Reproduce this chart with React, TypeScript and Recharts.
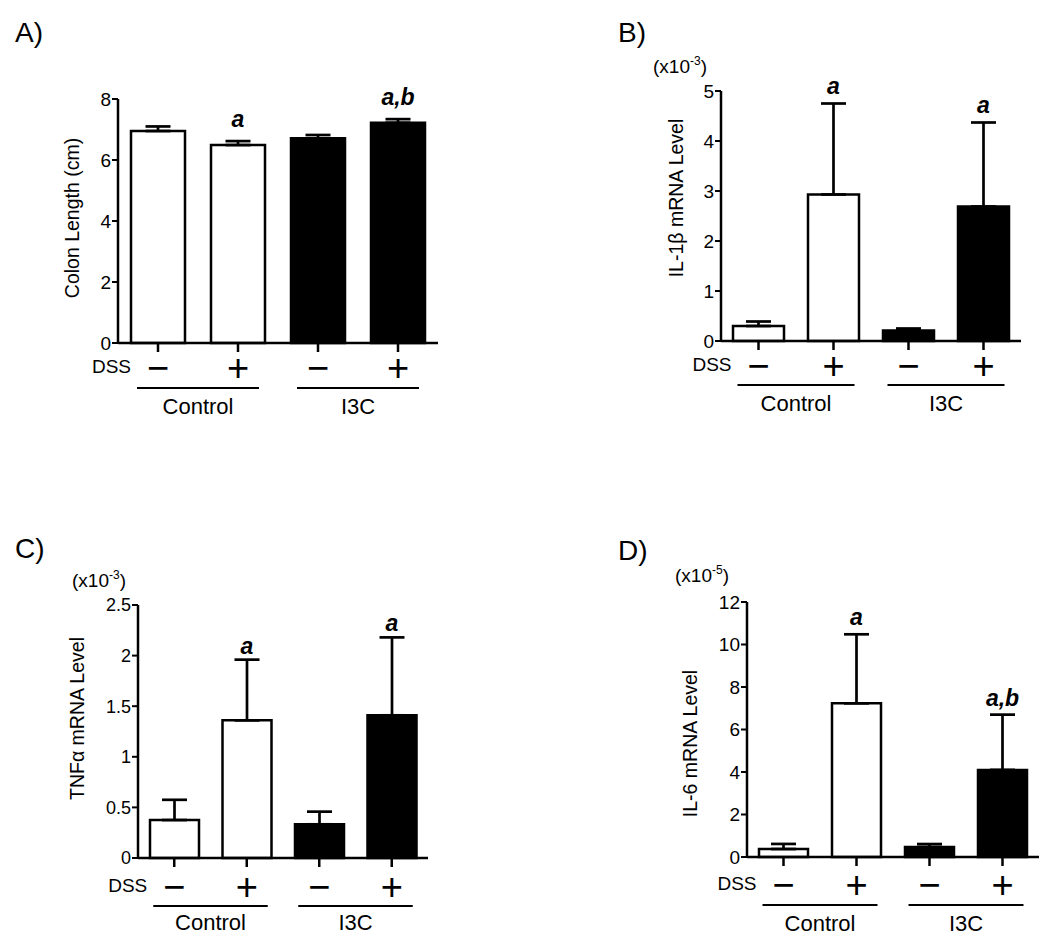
import React from "react";
import { BarChart, Bar, XAxis, YAxis, ErrorBar, Cell, LabelList } from "recharts";

const FONT = "'Liberation Sans', Arial, Helvetica, sans-serif";

const categories = ["Control DSS-", "Control DSS+", "I3C DSS-", "I3C DSS+"];
const groupNames = ["Control", "Control", "I3C", "I3C"];
const dssSigns = ["\u2212", "+", "\u2212", "+"];
const barFills = ["#ffffff", "#ffffff", "#000000", "#000000"];

// A) colon length (cm)
const colonMean = [6.95, 6.49, 6.71, 7.22];
const colonErr = [0.15, 0.13, 0.11, 0.12];
const colonSig = ["", "a", "", "a,b"];
const colonTicks = [0, 2, 4, 6, 8];

// B) IL-1b mRNA (x10^-3)
const il1bMean = [0.3, 2.93, 0.21, 2.69];
const il1bErr = [0.09, 1.82, 0.04, 1.68];
const il1bSig = ["", "a", "", "a"];
const il1bTicks = [0, 1, 2, 3, 4, 5];

// C) TNFa mRNA (x10^-3)
const tnfaMean = [0.375, 1.36, 0.333, 1.41];
const tnfaErr = [0.2, 0.6, 0.125, 0.77];
const tnfaSig = ["", "a", "", "a"];
const tnfaTicks = [0, 0.5, 1, 1.5, 2, 2.5];

// D) IL-6 mRNA (x10^-5)
const il6Mean = [0.375, 7.23, 0.47, 4.1];
const il6Err = [0.24, 3.25, 0.14, 2.6];
const il6Sig = ["", "a", "", "a,b"];
const il6Ticks = [0, 2, 4, 6, 8, 10, 12];

const Y_W = 70;
const X_H = 70;
const TICK_X = 9;

function buildRows(mean: number[], err: number[], sig: string[]) {
  return categories.map((c, i) => ({ cat: c, mean: mean[i], err: [0, err[i]], sig: sig[i] }));
}

type Row = ReturnType<typeof buildRows>[number];

const makeTick = (band: number, signDy: number, lineDy: number, groupDy: number) => (props: any) => {
  const { x, y, payload } = props;
  const i = props.index ?? payload.index;
  const axisY = y - TICK_X;
  return (
    <g fontFamily={FONT} fill="#000">
      <text x={x} y={axisY + signDy} textAnchor="middle" dominantBaseline="central" fontSize={38}>
        {dssSigns[i]}
      </text>
      {i === 0 && (
        <text x={x - 27} y={axisY + signDy - 2} textAnchor="end" dominantBaseline="central" fontSize={19}>
          DSS
        </text>
      )}
      {i % 2 === 0 && (
        <>
          <line x1={x - 21} x2={x + band + 21} y1={axisY + lineDy} y2={axisY + lineDy} stroke="#000" strokeWidth={2} />
          <text x={x + band / 2} y={axisY + groupDy} textAnchor="middle" fontSize={22}>
            {groupNames[i]}
          </text>
        </>
      )}
    </g>
  );
};

const sigLabel = (rows: Row[], gap: number) => (p: any) => {
  const row = rows[p.index];
  if (!row || !row.sig) return null;
  const vb = p.viewBox ?? p;
  const x = vb.x + vb.width / 2;
  const errTop = vb.y - row.err[1] * (vb.height / row.mean);
  return (
    <text x={x} y={errTop - gap} textAnchor="middle" fontSize={23} fontWeight="bold" fontStyle="italic" fontFamily={FONT} fill="#000">
      {row.sig}
    </text>
  );
};

const yLabel = (text: string, dx: number, dy: number) => (p: any) => {
  const vb = p.viewBox;
  const x = vb.x + vb.width - dx;
  const y = vb.y + vb.height / 2 + dy;
  return (
    <text x={x} y={y} transform={`rotate(-90 ${x} ${y})`} textAnchor="middle" dominantBaseline="central" fontSize={19.5} fontFamily={FONT} fill="#000">
      {text}
    </text>
  );
};

type PanelProps = {
  left: number;
  top: number;
  width: number;
  height: number;
  margin: { top: number; right: number; bottom: number; left: number };
  rows: Row[];
  ticks: number[];
  label: string;
  labelDx: number;
  labelDy: number;
  tickFont: number;
  barSize: number;
  sigGap: number;
  signDy: number;
  lineDy: number;
  groupDy: number;
};

function Panel(p: PanelProps) {
  const band = (p.width - p.margin.left - p.margin.right - Y_W) / categories.length;
  const maxTick = p.ticks[p.ticks.length - 1];
  return (
    <div style={{ position: "absolute", left: p.left, top: p.top }}>
      <BarChart width={p.width} height={p.height} data={p.rows} margin={p.margin}>
        <XAxis
          dataKey="cat"
          interval={0}
          height={X_H}
          tickSize={TICK_X}
          tickMargin={0}
          axisLine={{ stroke: "#000", strokeWidth: 2.5 }}
          tickLine={{ stroke: "#000", strokeWidth: 2.5 }}
          tick={makeTick(band, p.signDy, p.lineDy, p.groupDy)}
        />
        <YAxis
          width={Y_W}
          domain={[0, maxTick]}
          ticks={p.ticks}
          interval={0}
          tickSize={6}
          tickMargin={1}
          axisLine={{ stroke: "#000", strokeWidth: 2.5 }}
          tickLine={{ stroke: "#000", strokeWidth: 2 }}
          tick={{ fontSize: p.tickFont, fill: "#000", fontFamily: FONT }}
          label={{ content: yLabel(p.label, p.labelDx, p.labelDy) } as any}
        />
        <Bar dataKey="mean" barSize={p.barSize} stroke="#000" strokeWidth={2.5} isAnimationActive={false}>
          {p.rows.map((_, i) => (
            <Cell key={i} fill={barFills[i]} />
          ))}
          <ErrorBar dataKey="err" width={12.5} strokeWidth={2.7} stroke="#000" direction="y" isAnimationActive={false} />
          <LabelList dataKey="sig" content={sigLabel(p.rows, p.sigGap)} />
        </Bar>
      </BarChart>
    </div>
  );
}

function Exponent({ x, y, power }: { x: number; y: number; power: string }) {
  return (
    <text x={x} y={y} fontSize={19} fontFamily={FONT} fill="#000">
      (x10
      <tspan dy={-8} fontSize={12}>
        {power}
      </tspan>
      <tspan dy={8} fontSize={19}>
        )
      </tspan>
    </text>
  );
}

export default function App() {
  const letter = { fontSize: 28, fontFamily: FONT, fill: "#000" };
  return (
    <div style={{ position: "absolute", left: 0, top: 0, width: 1050, height: 939, background: "#fff", overflow: "hidden" }}>
      <Panel
        left={0}
        top={0}
        width={525}
        height={470}
        margin={{ top: 99, right: 87, bottom: 57, left: 48 }}
        rows={buildRows(colonMean, colonErr, colonSig)}
        ticks={colonTicks}
        label="Colon Length (cm)"
        labelDx={46}
        labelDy={-3}
        tickFont={19}
        barSize={54}
        sigGap={14}
        signDy={25}
        lineDy={45}
        groupDy={71}
      />
      <Panel
        left={525}
        top={0}
        width={525}
        height={470}
        margin={{ top: 91, right: 29, bottom: 59, left: 126 }}
        rows={buildRows(il1bMean, il1bErr, il1bSig)}
        ticks={il1bTicks}
        label="IL-1β mRNA Level"
        labelDx={45}
        labelDy={-18}
        tickFont={19}
        barSize={51}
        sigGap={10}
        signDy={25}
        lineDy={44}
        groupDy={70}
      />
      <Panel
        left={0}
        top={470}
        width={525}
        height={469}
        margin={{ top: 135, right: 97, bottom: 11, left: 68 }}
        rows={buildRows(tnfaMean, tnfaErr, tnfaSig)}
        ticks={tnfaTicks}
        label="TNFα mRNA Level"
        labelDx={61}
        labelDy={-13}
        tickFont={18}
        barSize={49}
        sigGap={6}
        signDy={29}
        lineDy={48}
        groupDy={72}
      />
      <Panel
        left={525}
        top={470}
        width={525}
        height={469}
        margin={{ top: 132, right: 11, bottom: 12, left: 152 }}
        rows={buildRows(il6Mean, il6Err, il6Sig)}
        ticks={il6Ticks}
        label="IL-6 mRNA Level"
        labelDx={57}
        labelDy={14}
        tickFont={19}
        barSize={49}
        sigGap={9}
        signDy={28}
        lineDy={48}
        groupDy={74}
      />
      <svg width={1050} height={939} style={{ position: "absolute", left: 0, top: 0, pointerEvents: "none" }}>
        <text x={15} y={42} {...letter}>A)</text>
        <text x={618} y={42} {...letter}>B)</text>
        <text x={15} y={558} {...letter}>C)</text>
        <text x={618} y={560} {...letter}>D)</text>
        <Exponent x={653} y={73} power="-3" />
        <Exponent x={72} y={587} power="-3" />
        <Exponent x={675} y={582} power="-5" />
      </svg>
    </div>
  );
}
